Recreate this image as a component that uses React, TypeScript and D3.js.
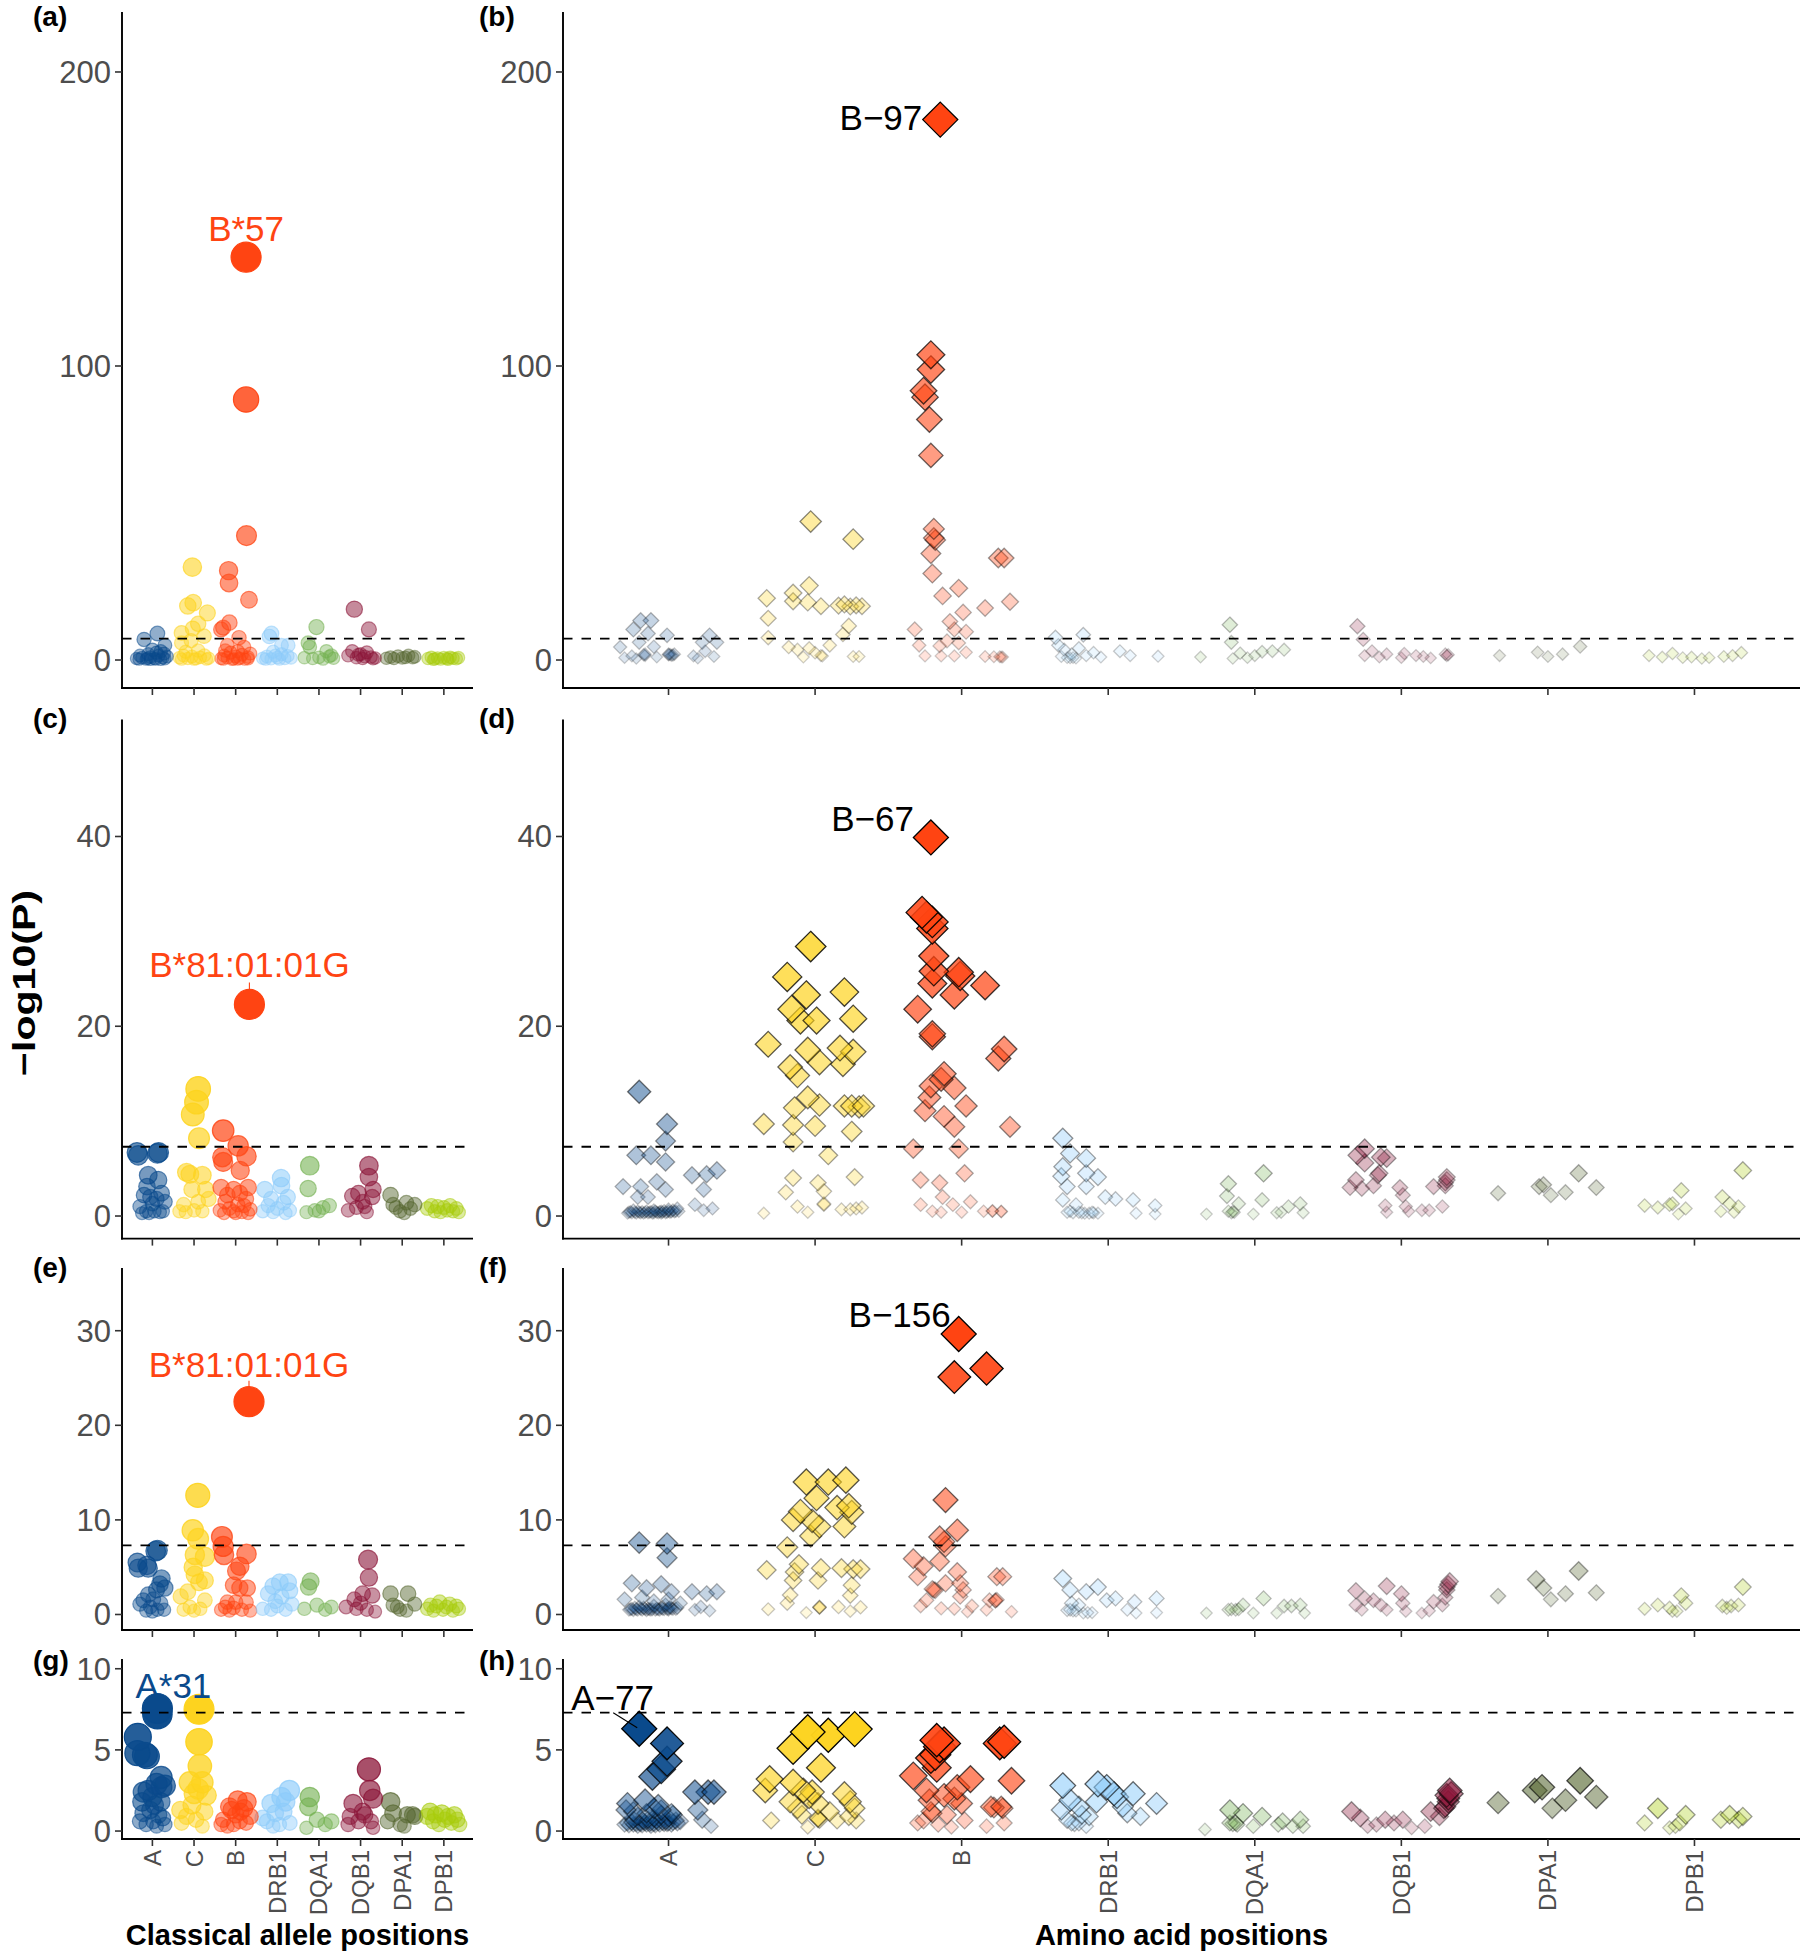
import React from "react";
import * as d3 from "d3";

const FONT = "'Liberation Sans', Arial, Helvetica, sans-serif";

const GENES = ["A", "C", "B", "DRB1", "DQA1", "DQB1", "DPA1", "DPB1"];
const GENE_COLORS = ["#0A4A8C", "#FDD31E", "#FF4412", "#8CCBFA", "#72B04F", "#8B1538", "#55662F", "#A8CC0C"];

type Pt = [number, number]; // [position along gene axis, -log10(P)]
type GeneSet = Record<string, Pt[]>;

// ---------- classical alleles (left column) ----------
const allelesA: GeneSet = {
  A: [[0.62,0.5],[0.7,1.5],[0.75,0.8],[0.8,7],[0.85,0.3],[0.9,2],[0.95,1],[0.95,0.2],[1.0,3.5],[1.05,0.5],[1.1,2.5],[1.12,9],[1.15,1.5],[1.2,3],[1.2,0.2],[1.25,0.8],[1.28,2.2],[1.3,5],[1.35,1.2],[0.68,0.3],[0.88,0.6],[1.08,0.3],[1.3,0.4]],
  C: [[1.96,31.6],[1.85,18.4],[1.98,19.5],[2.32,16],[2.1,12.3],[1.97,10.7],[1.7,9.2],[1.7,5.8],[2.24,8.1],[1.93,6.6],[1.65,0.8],[1.75,1.5],[1.85,0.5],[1.95,1.2],[2.05,0.4],[2.15,0.9],[2.25,1.6],[2.35,0.6],[2.1,3.2],[1.8,2.8],[1.7,0.3],[2.0,0.3],[2.3,0.3]],
  B: [[3.25,137],[3.25,88.6],[3.26,42.3],[2.83,30.4],[2.84,26.2],[3.32,20.5],[2.85,12.7],[2.65,10.4],[2.7,11],[3.08,7.6],[2.8,5],[3.2,4.4],[2.65,0.5],[2.72,1.5],[2.8,0.8],[2.88,2.5],[2.95,0.4],[3.0,1.2],[3.05,3],[3.1,0.6],[3.15,1.8],[3.22,0.3],[3.3,1],[3.35,2.2],[2.75,3.2],[2.92,0.2],[2.7,0.3],[3.05,0.3],[3.3,0.4]],
  DRB1: [[3.81,8],[3.86,9],[4.1,5],[4.26,5],[3.65,0.6],[3.75,1.2],[3.85,0.4],[3.95,1.5],[4.0,0.8],[4.1,2],[4.18,0.5],[4.25,1.4],[4.33,0.7],[3.9,2.8],[3.72,0.3],[4.05,0.3]],
  DQA1: [[4.94,11.2],[4.74,5.8],[4.78,4.4],[5.18,3],[5.3,1.6],[4.65,0.8],[4.85,0.5],[5.0,0.9],[5.1,0.3],[5.25,1.2],[5.35,0.6]],
  DQB1: [[5.85,17.3],[6.2,10.4],[5.7,1.5],[5.8,3],[5.9,0.8],[6.0,2],[6.05,0.5],[6.1,1.2],[6.15,2.6],[6.25,1],[6.3,0.4],[5.95,1.8],[6.35,0.7]],
  DPA1: [[6.62,0.6],[6.72,1],[6.8,0.5],[6.9,1.3],[7.0,0.7],[7.08,0.9],[7.15,1.5],[7.25,0.8],[7.3,1.1]],
  DPB1: [[7.62,0.5],[7.7,0.9],[7.78,0.4],[7.85,0.7],[7.92,0.3],[8.0,0.8],[8.08,0.5],[8.15,0.9],[8.22,0.6],[8.3,0.4],[8.35,0.8],[7.75,0.2],[8.1,0.2]],
};

const allelesC: GeneSet = {
  A: [[0.63,6.7],[0.66,6.4],[1.12,6.6],[1.15,6.7],[0.9,4.3],[1.14,3.8],[0.87,3.1],[1.22,2.4],[0.95,2],[0.7,1.0],[1.05,0.5],[1.18,0.4],[0.85,0.5],[1.25,0.5],[0.75,0.3],[1.0,1.3],[1.3,1.5],[0.8,2.2],[0.92,0.3],[1.1,1.8]],
  C: [[2.1,13.4],[2.06,12],[1.97,10.7],[2.12,8.2],[1.82,4.6],[2.2,4.3],[1.95,2.8],[2.28,2.8],[2.1,1.5],[1.65,0.5],[1.8,0.4],[2.0,0.6],[2.2,0.5],[1.75,1.2],[2.35,1.8],[1.9,4.4]],
  B: [[3.33,22.3],[2.7,9.0],[3.06,7.4],[3.26,6.3],[2.68,6.2],[2.7,5.7],[3.11,4.8],[2.65,3.0],[2.95,2.8],[3.3,3.0],[2.75,1.5],[2.85,0.8],[2.95,0.5],[3.05,1.2],[3.15,0.4],[3.25,1.8],[3.35,0.7],[2.8,2.2],[3.0,0.3],[3.2,1.1],[2.62,0.6],[3.1,2.4],[2.72,0.3],[3.3,0.3]],
  DRB1: [[3.7,2.8],[4.09,4.0],[4.1,3.2],[4.25,2.0],[3.65,0.5],[3.78,1.1],[3.9,0.4],[4.0,0.8],[4.15,1.4],[4.3,0.6],[3.85,1.8],[4.2,0.3]],
  DQA1: [[4.78,5.3],[4.74,2.9],[4.7,0.4],[4.9,0.6],[5.1,0.9],[5.25,1.1],[5.0,0.5]],
  DQB1: [[6.2,5.3],[6.2,4.1],[6.3,2.8],[5.8,2.1],[6.05,1.5],[5.7,0.6],[6.28,2.0],[5.9,0.9],[6.15,0.4],[5.95,2.4],[6.1,1.0]],
  DPA1: [[6.72,2.2],[6.78,1.2],[7.1,1.4],[7.3,1.2],[6.95,0.5],[7.2,0.8],[6.85,0.9],[7.05,0.3]],
  DPB1: [[7.6,0.8],[7.7,1.1],[7.78,0.5],[7.85,1.0],[7.92,0.4],[8.0,0.9],[8.08,0.6],[8.15,1.1],[8.22,0.5],[8.3,0.8],[8.36,0.4]],
};

const allelesE: GeneSet = {
  A: [[1.12,6.8],[1.08,6.7],[0.64,5.5],[0.66,4.9],[0.87,5.2],[0.9,4.9],[1.22,3.8],[1.18,3.2],[1.1,2.6],[0.9,2.1],[1.3,2.8],[0.7,1.1],[0.95,0.8],[1.12,0.5],[1.28,0.5],[0.78,1.5],[1.02,1.6],[0.85,0.4],[1.0,0.3],[1.2,1.2]],
  C: [[2.09,12.6],[1.97,8.9],[2.1,8.0],[2.02,6.3],[2.26,6.1],[1.98,5.0],[2.02,4.2],[2.26,3.6],[2.12,3.4],[1.68,1.9],[1.85,2.4],[2.26,1.5],[1.75,0.5],[2.0,0.4],[2.15,0.6],[1.9,0.8]],
  B: [[3.32,22.5],[2.67,8.2],[2.7,7.2],[2.72,6.3],[3.26,6.4],[3.1,5.1],[3.02,4.6],[2.95,3.1],[3.1,2.8],[3.28,2.8],[2.8,1.3],[3.0,1.3],[3.25,1.3],[2.65,0.5],[2.85,0.4],[2.95,0.7],[3.15,0.5],[3.35,0.4],[2.75,0.8]],
  DRB1: [[4.06,3.4],[4.26,3.4],[3.9,3.0],[3.78,2.2],[4.1,1.9],[4.3,2.5],[3.65,0.6],[3.85,0.5],[4.0,0.9],[4.2,0.5],[4.35,1.1],[3.95,1.4]],
  DQA1: [[4.8,3.5],[4.75,2.9],[4.95,1.0],[4.65,0.6],[5.3,0.8],[5.15,0.5]],
  DQB1: [[6.18,5.8],[6.2,3.9],[6.05,2.2],[6.28,2.0],[5.85,1.6],[5.65,0.8],[5.9,0.6],[6.15,0.5],[6.35,0.3],[6.0,1.2]],
  DPA1: [[6.72,2.2],[7.14,2.2],[6.78,1.0],[7.3,1.1],[6.95,0.5],[7.1,0.4],[6.88,0.8]],
  DPB1: [[7.6,0.6],[7.68,1.0],[7.75,0.4],[7.82,0.9],[7.9,1.3],[7.98,0.5],[8.06,0.8],[8.14,1.1],[8.22,0.4],[8.3,0.9],[8.36,0.6]],
};

const allelesG: GeneSet = {
  A: [[1.12,7.55],[1.12,7.2],[0.65,5.8],[0.64,4.8],[0.87,4.6],[0.82,4.7],[1.21,3.3],[1.1,2.9],[1.22,2.7],[0.78,2.4],[1.3,2.8],[1.0,2.1],[0.75,1.8],[1.2,1.8],[0.78,1.1],[1.02,0.6],[1.25,0.8],[0.85,0.4],[1.1,0.3],[1.3,0.4],[0.95,1.3],[1.15,1.0],[0.9,2.5],[1.05,1.6],[0.7,0.6]],
  C: [[2.12,7.5],[2.12,5.5],[2.14,4.0],[1.9,3.0],[2.2,3.0],[2.0,2.3],[2.3,2.2],[1.67,1.3],[1.82,0.9],[2.05,0.7],[2.2,0.3],[1.7,0.5],[1.95,1.6],[2.25,1.2],[2.1,2.6]],
  B: [[3.27,1.8],[3.05,1.9],[2.9,1.3],[3.12,1.2],[2.7,0.7],[2.95,0.4],[3.25,0.5],[2.8,0.3],[3.1,0.6],[3.35,0.9],[2.65,0.4],[3.0,1.0],[2.85,1.5],[3.2,1.4]],
  DRB1: [[4.29,2.5],[4.1,2.1],[3.85,1.7],[4.2,1.8],[3.95,1.1],[3.75,0.6],[4.05,0.4],[4.3,0.5],[3.65,0.8],[4.15,1.2],[3.9,0.3]],
  DQA1: [[4.78,2.1],[4.75,1.5],[4.95,0.7],[5.3,0.6],[4.7,0.2],[5.15,0.4]],
  DQB1: [[6.2,3.8],[6.22,2.5],[6.3,2.0],[5.82,1.7],[6.05,1.2],[5.75,0.9],[5.95,0.6],[6.25,0.6],[5.7,0.4],[6.3,0.2],[6.1,1.0]],
  DPA1: [[6.72,1.8],[6.78,1.1],[7.12,1.0],[7.25,1.0],[6.95,0.4],[6.65,0.6],[7.05,0.3],[7.3,0.9]],
  DPB1: [[7.6,0.9],[7.67,1.2],[7.74,0.6],[7.8,1.0],[7.88,0.4],[7.95,1.1],[8.02,0.7],[8.1,0.9],[8.18,0.5],[8.25,1.0],[8.32,0.7],[8.38,0.4]],
};

// ---------- amino acid positions (right column) ----------
const aminoB: GeneSet = {
  A: [[0.81,13.4],[0.88,13.4],[0.76,10.4],[0.86,9],[0.99,8.4],[0.67,4.4],[0.8,6],[0.9,4.5],[0.75,1.4],[0.84,2],[0.84,1.5],[1.0,2],[1.04,2],[1.02,1.6],[1.0,1.8],[1.03,1.7],[0.7,0.8],[0.78,0.5],[0.92,1],[1.23,6],[1.28,8.4],[1.33,6],[1.17,1.4],[1.25,3],[1.31,1.2],[1.2,0.6],[0.83,1.8],[1.01,1.9]],
  C: [[1.97,47.1],[2.26,41.1],[1.67,21],[1.85,22.8],[1.96,25.3],[1.85,20],[1.95,19.6],[2.04,18.3],[2.16,18.5],[2.2,18.9],[2.24,18.2],[2.28,18.6],[2.32,18.3],[1.68,14.2],[2.23,11.6],[1.68,7.6],[2.19,8.7],[1.82,4.4],[1.88,3.5],[1.96,4],[2.04,1.5],[2.05,1.4],[2.1,5],[2.26,1.2],[2.3,1.2],[1.92,1.0],[2.0,2.5]],
  B: [[2.854,183.8],[2.79,103.8],[2.79,98.8],[2.74,91.6],[2.75,89.4],[2.78,81.8],[2.79,69.6],[2.81,44.6],[2.82,40.8],[2.81,41.5],[2.79,36.2],[2.8,29.4],[3.25,34.7],[3.29,34.7],[2.87,21.8],[2.98,24.4],[3.01,16.2],[3.16,17.7],[3.33,19.8],[2.92,13.1],[2.68,10.4],[2.95,10.4],[3.03,9.6],[2.71,5],[2.85,4.8],[2.75,1.4],[2.86,1.4],[2.95,1.4],[3.03,2.6],[3.16,1.2],[3.22,1.1],[3.26,1.1],[3.27,1.0],[3.28,1.0],[2.98,5.8],[2.9,6.5]],
  DRB1: [[3.64,7.7],[3.83,8.6],[3.66,5],[3.7,3.5],[3.75,2],[3.8,4],[3.68,1.2],[3.85,1.5],[3.9,2.5],[4.08,3],[4.34,1.3],[3.72,0.8],[3.78,0.6],[3.95,1],[4.15,1.5],[3.74,0.7],[3.76,0.8]],
  DQA1: [[4.83,12],[4.84,6],[4.63,1],[4.9,2.3],[4.95,0.8],[5.05,2.8],[5.12,3],[5.2,3.5],[5.0,1.5],[4.85,0.5]],
  DQB1: [[5.7,11.5],[5.74,7],[5.8,3],[5.9,2],[6.02,2.2],[6.1,1.5],[6.3,2],[6.32,1.8],[6.31,1.5],[5.85,1.0],[6.0,0.8],[6.15,1.2],[5.75,1.5],[6.2,0.7]],
  DPA1: [[6.67,1.5],[6.93,2.6],[7.0,1.2],[7.1,2.0],[7.22,4.6]],
  DPB1: [[7.69,1.5],[7.78,1.0],[7.85,2.2],[7.92,0.8],[7.98,1.0],[8.05,0.5],[8.2,1.2],[8.26,1.5],[8.32,2.5],[8.1,0.8]],
};

const aminoD: GeneSet = {
  A: [[0.8,13.1],[0.99,9.7],[0.98,7.9],[0.78,6.4],[0.88,6.4],[0.98,5.7],[1.26,4.4],[1.33,4.8],[1.16,4.3],[0.69,3.1],[0.81,3.1],[0.92,3.6],[0.79,2.0],[0.86,2.0],[0.98,2.8],[1.24,2.8],[1.18,1.2],[1.24,0.6],[1.3,0.8],
      [0.72,0.3],[0.75,0.35],[0.78,0.3],[0.8,0.4],[0.83,0.3],[0.86,0.35],[0.89,0.3],[0.92,0.4],[0.95,0.3],[0.98,0.35],[1.01,0.4],[1.04,0.45],[1.07,0.5],[0.85,0.5],[0.95,0.5],[0.9,0.6],[0.76,0.6],[1.0,0.7],[1.06,0.8],[0.74,0.45],[0.82,0.45],[0.88,0.45],[0.94,0.45],[1.0,0.5],
      [0.73,0.4],[0.77,0.4],[0.81,0.35],[0.84,0.4],[0.87,0.4],[0.9,0.35],[0.93,0.35],[0.96,0.4],[0.99,0.4],[1.02,0.45],[1.05,0.5],[0.79,0.5],[0.91,0.5],[0.97,0.55],[1.03,0.6]],
  C: [[1.97,28.4],[1.81,25.2],[1.94,23.3],[2.2,23.6],[1.84,21.8],[1.9,20.6],[2.01,20.6],[2.26,20.8],[1.68,18.1],[1.95,17.5],[2.17,17.7],[2.26,17.3],[2.03,16.2],[2.19,16.0],[1.83,15.7],[1.88,14.8],[1.95,12.5],[2.03,11.7],[2.2,11.6],[2.25,11.6],[2.3,11.5],[2.33,11.6],[1.86,11.4],[2.0,9.5],[1.65,9.7],[1.85,9.6],[2.25,8.9],[1.85,7.8],[2.09,6.4],[1.85,4.0],[2.02,3.5],[2.27,4.1],[1.8,2.5],[2.06,2.6],[2.06,1.2],[2.06,1.3],[1.88,1.0],[1.95,0.4],[1.65,0.3],[2.18,0.7],[2.24,0.7],[2.28,0.8],[2.32,0.9]],
  B: [[2.79,39.9],[2.73,32.0],[2.76,31.5],[2.8,31.0],[2.8,30.3],[2.81,27.4],[2.81,25.8],[2.98,25.7],[2.99,25.3],[2.95,23.3],[3.16,24.3],[2.8,24.5],[2.7,21.8],[2.8,19.2],[2.8,18.9],[3.29,17.6],[3.25,16.6],[2.88,15.0],[2.86,14.4],[2.78,12.5],[2.79,13.7],[2.95,13.5],[2.75,11.1],[2.88,10.5],[3.03,11.6],[2.95,9.4],[3.33,9.4],[2.67,7.1],[2.98,7.1],[3.02,4.5],[2.72,3.8],[2.85,3.5],[2.87,2.0],[2.72,1.2],[2.94,1.2],[3.06,1.5],[2.8,0.5],[2.86,0.4],[3.0,0.4],[3.15,0.5],[3.21,0.5],[3.21,0.55],[3.27,0.5],[3.27,0.45]],
  DRB1: [[3.69,8.2],[3.74,6.6],[3.69,5.2],[3.68,4.2],[3.72,3.1],[3.69,1.7],[3.74,0.5],[3.85,6.1],[3.93,4.1],[3.85,4.5],[3.85,3.1],[3.98,2.0],[4.05,1.8],[4.17,1.7],[4.32,1.1],[4.19,0.3],[4.32,0.2],[3.87,0.3],[3.9,0.35],[3.93,0.3],[3.8,0.4],[3.84,0.3],[3.78,1.2],[3.72,0.4],[3.76,0.35],[3.82,0.35],[3.89,0.4]],
  DQA1: [[4.82,3.4],[5.06,4.5],[4.81,2.1],[4.89,1.3],[5.05,1.7],[4.67,0.2],[4.84,0.35],[4.86,0.4],[4.82,0.5],[4.99,0.2],[5.15,0.35],[5.23,1.0],[5.31,1.3],[5.33,0.35],[5.18,0.4],[4.85,0.45]],
  DQB1: [[5.75,7.1],[5.7,6.4],[5.86,6.2],[5.9,6.1],[5.75,5.6],[5.84,4.3],[5.85,4.5],[5.69,3.8],[5.81,3.2],[5.65,3.0],[5.73,2.9],[5.99,3.0],[6.01,2.2],[6.22,3.1],[6.31,3.8],[6.3,3.5],[6.31,4.1],[6.3,3.2],[5.89,1.1],[6.03,1.0],[6.14,0.6],[6.19,0.6],[6.28,1.0],[5.9,0.4],[6.05,0.5]],
  DPA1: [[6.66,2.4],[6.94,3.1],[6.97,3.3],[7.02,2.2],[7.12,2.5],[7.21,4.5],[7.33,3.0]],
  DPB1: [[7.66,1.1],[7.75,0.9],[7.83,1.2],[7.85,1.3],[7.91,2.7],[7.94,0.8],[7.89,0.2],[8.19,2.0],[8.24,1.3],[8.3,1.0],[8.18,0.5],[8.33,4.8],[8.27,0.4]],
};

const aminoF: GeneSet = {
  A: [[0.8,7.6],[0.99,7.5],[0.99,6.0],[0.75,3.3],[0.85,2.8],[0.95,3.2],[1.02,2.4],[0.7,1.6],[0.82,1.8],[0.9,1.4],[1.0,1.6],[1.08,1.2],[1.26,2.2],[1.33,2.4],[1.16,2.4],[1.18,0.5],[1.22,0.8],[1.28,0.4],
      [0.73,0.5],[0.76,0.45],[0.79,0.5],[0.82,0.5],[0.85,0.45],[0.88,0.5],[0.91,0.5],[0.94,0.5],[0.97,0.55],[1.0,0.5],[1.03,0.6],[1.06,0.7],[0.8,0.8],[0.9,0.9],[0.98,1.0],[0.75,0.6],[0.84,0.6],[0.92,0.6],[1.0,0.65],[0.87,0.55],
      [0.74,0.55],[0.78,0.55],[0.81,0.6],[0.86,0.6],[0.89,0.55],[0.93,0.55],[0.96,0.6],[0.99,0.6],[1.02,0.65],[1.05,0.6],[0.77,0.7],[0.83,0.7],[0.95,0.7],[1.01,0.75]],
  C: [[1.94,14.0],[2.09,14.0],[2.21,14.2],[2.01,12.3],[2.15,11.3],[2.23,11.5],[2.25,10.8],[1.9,10.9],[1.85,10.0],[1.98,9.9],[2.03,9.3],[2.2,9.3],[1.97,8.3],[1.81,7.1],[1.67,4.7],[1.89,5.3],[1.86,4.5],[2.04,4.9],[2.18,4.9],[2.26,4.8],[2.31,4.8],[2.02,3.6],[1.85,3.6],[2.25,3.1],[1.83,2.06],[2.24,2.0],[1.81,1.2],[2.03,0.76],[2.03,0.8],[2.03,0.7],[1.68,0.55],[1.94,0.2],[2.16,0.8],[2.24,0.35],[2.31,0.76]],
  B: [[2.98,29.65],[2.95,25.1],[3.17,26.0],[2.89,12.1],[2.97,8.9],[2.85,8.2],[2.88,7.7],[2.89,7.2],[2.67,5.9],[2.85,5.6],[2.74,5.1],[2.97,4.5],[2.7,4.0],[3.24,4.0],[3.28,4.0],[2.89,3.3],[2.99,3.3],[2.81,2.6],[2.82,2.55],[2.8,2.7],[3.01,2.6],[2.99,1.9],[2.76,1.5],[3.19,1.5],[3.23,1.5],[3.23,1.45],[3.24,1.55],[3.07,0.9],[2.72,0.9],[2.86,0.65],[2.95,0.6],[3.04,0.3],[3.17,0.5],[3.34,0.3]],
  DRB1: [[3.69,3.8],[3.74,2.6],[3.75,1.2],[3.74,0.5],[3.72,0.45],[3.78,0.4],[3.93,2.9],[3.85,2.4],[3.99,1.5],[4.05,1.7],[4.18,1.35],[4.33,1.7],[4.13,0.5],[4.19,0.15],[4.33,0.2],[3.83,0.15],[3.89,0.2],[3.8,1.0],[3.76,0.4],[3.86,0.2]],
  DQA1: [[4.67,0.15],[4.82,0.5],[4.84,0.55],[4.87,0.5],[4.89,0.55],[4.92,1.0],[5.06,1.7],[4.99,0.15],[5.15,0.15],[5.2,0.9],[5.25,0.9],[5.31,1.0],[5.34,0.15]],
  DQB1: [[5.69,2.5],[5.9,3.0],[5.69,1.0],[5.75,1.7],[5.81,1.5],[5.86,1.0],[6.0,2.2],[6.01,1.2],[5.9,0.5],[5.73,0.5],[6.03,0.35],[6.14,0.15],[6.19,0.4],[6.22,1.35],[6.28,1.0],[6.31,2.9],[6.33,3.5],[6.3,1.8],[6.31,2.6],[6.32,3.2]],
  DPA1: [[6.66,1.95],[6.92,3.7],[6.97,2.8],[7.02,1.6],[7.12,2.2],[7.21,4.6],[7.33,2.3]],
  DPB1: [[7.66,0.6],[7.75,1.0],[7.83,0.7],[7.85,0.35],[7.91,2.0],[7.94,1.2],[8.19,0.9],[8.25,0.9],[8.3,1.0],[8.33,2.9],[7.88,0.35],[8.22,0.7]],
};

const aminoH: GeneSet = {
  A: [[0.8,6.3],[0.99,5.4],[0.99,4.3],[0.95,3.8],[0.89,3.35],[1.27,2.4],[1.18,2.4],[1.31,2.4],[0.72,1.7],[0.84,1.9],[0.93,1.6],[0.76,1.2],[0.71,1.3],[1.02,1.1],[1.03,1.0],[1.2,1.3],[1.23,0.7],[1.29,0.3],
      [0.7,0.4],[0.73,0.35],[0.76,0.4],[0.79,0.3],[0.82,0.35],[0.85,0.4],[0.88,0.3],[0.91,0.35],[0.94,0.4],[0.97,0.45],[1.0,0.5],[1.03,0.55],[1.06,0.5],[0.98,0.6],[0.83,0.6],[0.76,0.7],[0.9,0.8],[1.0,0.8],[0.95,1.0],[0.8,0.5],[0.88,0.5],[0.96,0.55],
      [0.72,0.5],[0.75,0.55],[0.78,0.45],[0.81,0.45],[0.84,0.5],[0.87,0.45],[0.9,0.45],[0.93,0.5],[0.99,0.45],[1.02,0.4],[1.05,0.65],[0.86,0.7],[0.92,0.65],[1.08,0.6],[0.79,0.9],[0.85,1.1],[0.9,1.4],[0.95,1.3]],
  C: [[2.27,6.28],[1.95,6.1],[2.09,5.9],[1.85,5.1],[2.04,3.9],[1.69,3.2],[1.66,2.5],[1.85,3.0],[1.92,2.5],[1.96,2.1],[2.2,2.3],[2.24,1.8],[1.83,1.8],[2.02,1.7],[2.27,1.4],[1.7,0.65],[2.02,0.75],[2.02,0.8],[2.03,0.7],[1.91,1.0],[2.15,0.65],[2.28,0.65],[1.95,0.25],[1.88,1.4],[2.1,1.2],[1.98,2.4],[2.23,0.9]],
  B: [[2.88,5.4],[2.83,5.6],[2.85,5.2],[2.82,4.7],[2.79,4.5],[2.83,3.9],[3.29,5.5],[3.26,5.4],[2.67,3.4],[3.06,3.2],[3.34,3.1],[2.97,2.7],[2.76,2.5],[2.88,2.2],[3.2,1.5],[3.22,1.45],[3.28,1.4],[3.27,1.5],[2.79,1.2],[2.8,1.1],[3.0,1.7],[2.74,0.65],[2.84,0.4],[2.93,0.25],[3.02,0.65],[3.17,0.3],[3.29,0.5],[2.9,1.0],[2.78,1.9],[2.95,2.0],[2.7,0.5]],
  DRB1: [[3.69,2.8],[3.93,2.9],[3.99,2.7],[4.04,2.3],[4.17,2.3],[4.06,2.1],[4.33,1.7],[3.8,1.5],[3.68,1.3],[3.87,0.9],[3.75,0.5],[3.77,0.45],[3.8,0.5],[4.13,1.1],[4.22,0.9],[3.85,0.3],[3.92,1.8],[3.74,1.9],[4.1,1.5],[3.82,1.0],[3.72,0.7]],
  DQA1: [[4.83,1.3],[4.92,1.1],[5.05,0.9],[4.83,0.5],[4.85,0.45],[4.87,0.5],[4.88,0.4],[4.66,0.1],[4.99,0.3],[5.16,0.4],[5.19,0.6],[5.31,0.7],[5.33,0.3],[5.26,0.3]],
  DQB1: [[5.66,1.2],[5.72,0.8],[5.83,0.4],[5.89,0.7],[6.01,0.7],[6.07,0.2],[6.16,0.3],[6.2,1.2],[6.26,0.9],[6.29,1.4],[6.33,2.5],[6.34,2.3],[6.32,2.0],[6.31,2.2],[6.3,1.5],[5.77,0.3],[5.95,0.5],[6.32,1.8]],
  DPA1: [[6.66,1.75],[6.91,2.5],[6.96,2.7],[7.03,1.4],[7.12,1.9],[7.22,3.1],[7.33,2.1]],
  DPB1: [[7.66,0.5],[7.75,1.4],[7.83,0.2],[7.9,0.5],[7.94,1.0],[8.18,0.7],[8.24,1.0],[8.3,0.7],[8.33,0.9],[7.87,0.3]],
};

const ROW_TICKS = [[0, 100, 200], [0, 20, 40], [0, 10, 20, 30], [0, 5, 10]];
const GW_THRESHOLD = -Math.log10(5e-8);
const LEFT_LETTERS = ["(a)", "(c)", "(e)", "(g)"];
const RIGHT_LETTERS = ["(b)", "(d)", "(f)", "(h)"];
const LEFT_TOP_LABELS = ["B*57", "B*81:01:01G", "B*81:01:01G", "A*31"];
const RIGHT_TOP_LABELS = ["B\u221297", "B\u221267", "B\u2212156", "A\u221277"];
const LEFT_DATA = [allelesA, allelesC, allelesE, allelesG];
const RIGHT_DATA = [aminoB, aminoD, aminoF, aminoH];

// ---------- layout ----------
const ROWS = [
  { top: 12, bottom: 688, domain: [-9.52, 220.4], letterY: 26 },
  { top: 719.5, bottom: 1238.6, domain: [-2.38, 52.33], letterY: 728 },
  { top: 1268, bottom: 1630, domain: [-1.64, 36.63], letterY: 1277 },
  { top: 1659, bottom: 1839, domain: [-0.49, 10.6], letterY: 1670 },
];
const LEFT = { x0: 122, x1: 473, domain: [0.27, 8.7], letterX: 33 };
const RIGHT = { x0: 563, x1: 1800, domain: [0.28, 8.72], letterX: 479 };

type Ann = { color: string; anchor: "start" | "middle" | "end"; dx: number; dy: number; seg?: [number, number, number, number] };
const LEFT_ANN: Ann[] = [
  { color: "#FF4412", anchor: "middle", dx: 0, dy: -16 },
  { color: "#FF4412", anchor: "middle", dx: 0, dy: -27, seg: [0, -22, 0, -14] },
  { color: "#FF4412", anchor: "middle", dx: 0, dy: -25, seg: [0, -21, 0, -14] },
  { color: "#0A4A8C", anchor: "middle", dx: 16, dy: -11 },
];
const RIGHT_ANN: Ann[] = [
  { color: "#000", anchor: "end", dx: -18, dy: 10 },
  { color: "#000", anchor: "end", dx: -17, dy: -6 },
  { color: "#000", anchor: "end", dx: -8, dy: -7 },
  { color: "#000", anchor: "start", dx: -68, dy: -19, seg: [-26, -16, -2, -1] },
];

type PanelProps = {
  data: GeneSet; shape: "circle" | "diamond"; frame: typeof LEFT; rowIdx: number;
  letter: string; label: string; ann: Ann; showXLabels: boolean;
};

function Panel({ data, shape, frame, rowIdx, letter, label, ann, showXLabels }: PanelProps) {
  const row = ROWS[rowIdx];
  const x = d3.scaleLinear().domain(frame.domain).range([frame.x0, frame.x1]);
  const y = d3.scaleLinear().domain(row.domain).range([row.bottom, row.top]);
  const pts: { gi: number; u: number; v: number }[] = [];
  GENES.forEach((g, gi) => (data[g] || []).forEach(([u, v]) => pts.push({ gi, u, v })));
  pts.sort((a, b) => a.v - b.v);
  const vmax = d3.max(pts, (d) => d.v) as number;
  const top = pts[pts.length - 1];
  const tx = x(top.u), ty = y(top.v);

  return (
    <g>
      {pts.map((p, i) => {
        const t = p.v / vmax;
        const cx = x(p.u), cy = y(p.v);
        const col = GENE_COLORS[p.gi];
        if (shape === "circle") {
          const r = 6 + 9 * Math.pow(t, 0.7);
          const a = 0.35 + 0.65 * Math.pow(t, 0.7);
          return <circle key={i} cx={cx} cy={cy} r={r} fill={col} fillOpacity={a} stroke={col} strokeOpacity={Math.min(1, a + 0.1)} strokeWidth={1.2} />;
        }
        const h = 5.3 + 12.2 * Math.pow(t, 0.6);
        const a = 0.13 + 0.87 * Math.pow(t, 0.8);
        return (
          <path key={i} d={`M${cx},${cy - h}L${cx + h},${cy}L${cx},${cy + h}L${cx - h},${cy}Z`}
            fill={col} fillOpacity={a} stroke="#000" strokeOpacity={Math.min(1, a + 0.05)} strokeWidth={1.3} strokeLinejoin="miter" />
        );
      })}
      <line x1={frame.x0} x2={frame.x1} y1={y(GW_THRESHOLD)} y2={y(GW_THRESHOLD)} stroke="#000" strokeWidth={1.8} strokeDasharray="9.5,9" />
      <line x1={frame.x0} x2={frame.x0} y1={row.top} y2={row.bottom + 1} stroke="#000" strokeWidth={1.9} />
      <line x1={frame.x0 - 1} x2={frame.x1} y1={row.bottom} y2={row.bottom} stroke="#000" strokeWidth={1.9} />
      {ROW_TICKS[rowIdx].map((t) => (
        <g key={t}>
          <line x1={frame.x0 - 7} x2={frame.x0} y1={y(t)} y2={y(t)} stroke="#333" strokeWidth={1.6} />
          <text x={frame.x0 - 11} y={y(t) + 11} textAnchor="end" fontSize={31} fill="#4D4D4D">{t}</text>
        </g>
      ))}
      {GENES.map((g, i) => (
        <g key={g}>
          <line x1={x(i + 1)} x2={x(i + 1)} y1={row.bottom} y2={row.bottom + 7} stroke="#333" strokeWidth={1.6} />
          {showXLabels && (
            <text transform={`translate(${x(i + 1) + 8.5},${row.bottom + 11}) rotate(-90)`} textAnchor="end" fontSize={24} fill="#4D4D4D">{g}</text>
          )}
        </g>
      ))}
      <text x={frame.letterX} y={row.letterY} fontSize={28} fontWeight="bold" fill="#000">{letter}</text>
      {ann.seg && (
        <line x1={tx + ann.seg[0]} y1={ty + ann.seg[1]} x2={tx + ann.seg[2]} y2={ty + ann.seg[3]} stroke={ann.color} strokeWidth={1.1} />
      )}
      <text x={tx + ann.dx} y={ty + ann.dy} textAnchor={ann.anchor} fontSize={35} fill={ann.color}>{label}</text>
    </g>
  );
}

export default function App() {
  React.useEffect(() => {
    document.body.style.margin = "0";
  }, []);
  return (
    <svg width={1800} height={1952} viewBox="0 0 1800 1952" fontFamily={FONT}
      style={{ display: "block", position: "absolute", left: 0, top: 0, background: "#fff" }}>
      <rect x={0} y={0} width={1800} height={1952} fill="#fff" />
      {ROWS.map((_, r) => (
        <g key={r}>
          <Panel data={LEFT_DATA[r]} shape="circle" frame={LEFT} rowIdx={r} letter={LEFT_LETTERS[r]}
            label={LEFT_TOP_LABELS[r]} ann={LEFT_ANN[r]} showXLabels={r === 3} />
          <Panel data={RIGHT_DATA[r]} shape="diamond" frame={RIGHT} rowIdx={r} letter={RIGHT_LETTERS[r]}
            label={RIGHT_TOP_LABELS[r]} ann={RIGHT_ANN[r]} showXLabels={r === 3} />
        </g>
      ))}
      <text transform="translate(35,983) rotate(-90)" textAnchor="middle" fontSize={32} fontWeight="bold"
        textLength={186} lengthAdjust="spacingAndGlyphs" fill="#000">{"\u2212log10(P)"}</text>
      <text x={(LEFT.x0 + LEFT.x1) / 2} y={1945} textAnchor="middle" fontSize={29} fontWeight="bold" fill="#000">Classical allele positions</text>
      <text x={(RIGHT.x0 + RIGHT.x1) / 2} y={1945} textAnchor="middle" fontSize={29} fontWeight="bold" fill="#000">Amino acid positions</text>
    </svg>
  );
}
